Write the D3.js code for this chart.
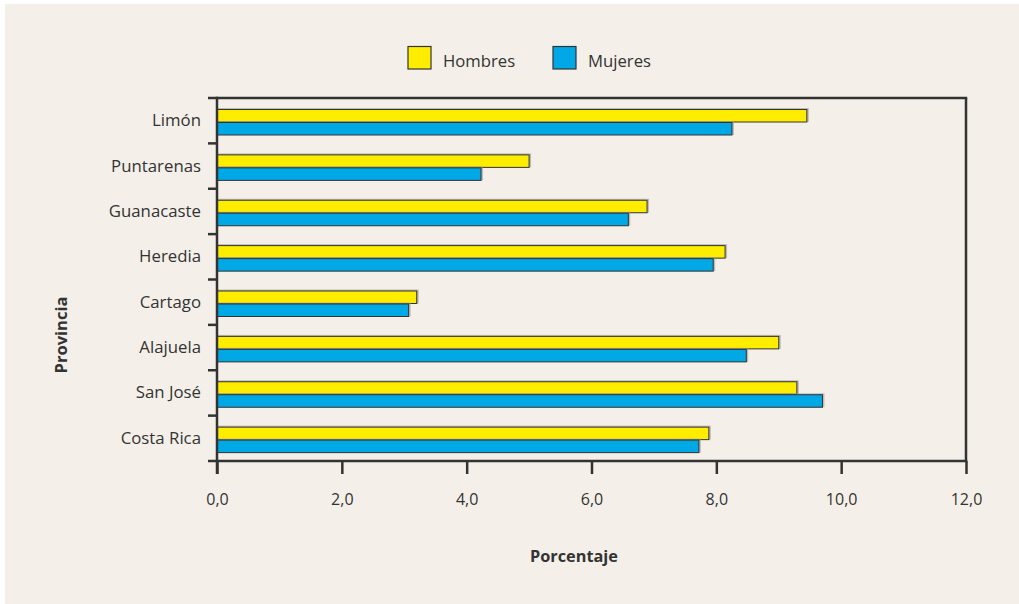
<!DOCTYPE html>
<html>
<head>
<meta charset="utf-8">
<script src="https://cdn.jsdelivr.net/npm/d3@7"></script>
<style>
  html, body { margin: 0; padding: 0; background: #ffffff; }
  svg { display: block; }
  text { font-family: "Open Sans", "Noto Sans", sans-serif; fill: #333333; }
</style>
</head>
<body>
<svg id="chart" width="1019" height="604"></svg>
<script>
const categories = ["Limón", "Puntarenas", "Guanacaste", "Heredia", "Cartago", "Alajuela", "San José", "Costa Rica"];
const seriesNames = ["Hombres", "Mujeres"];
const hombres = [9.45, 5.0, 6.89, 8.14, 3.2, 9.0, 9.29, 7.88];
const mujeres = [8.25, 4.23, 6.59, 7.95, 3.07, 8.48, 9.70, 7.72];
const xTicks = [0, 2, 4, 6, 8, 10, 12];
const colors = ["#FFED00", "#00A8E6"];

(function () {
const svg = d3.select("#chart");
svg.append("rect").attr("x", 5).attr("y", 4).attr("width", 1014).attr("height", 600).attr("fill", "#F4F0E9");

const pL = 217, pR = 966, pT = 98, pB = 461;
const x = d3.scaleLinear().domain([0, 12]).range([pL, pR]);
const y = d3.scaleBand().domain(categories).range([pT, pB]).padding(0);
const inner = d3.scaleBand().domain(seriesNames).range([11, 37]).padding(0);

const data = categories.map((c, i) => ({ cat: c, values: [hombres[i], mujeres[i]] }));

const g = svg.append("g");
data.forEach(d => {
  d.values.forEach((v, j) => {
    const by = y(d.cat) + inner(seriesNames[j]);
    g.append("rect")
      .attr("x", x(0) + 1).attr("y", by - 1)
      .attr("width", x(v) - x(0) + 1).attr("height", inner.bandwidth() + 1)
      .attr("fill", "#9a9a9a").attr("opacity", 0.6);
    g.append("rect")
      .attr("x", x(0) + 0.5).attr("y", by + 0.5)
      .attr("width", x(v) - x(0) - 0.5).attr("height", inner.bandwidth() - 0.5)
      .attr("fill", colors[j]).attr("stroke", "#333333").attr("stroke-width", 1);
  });
});

const axisColor = "#333333";
svg.append("line").attr("x1", pL).attr("x2", pR + 1.2).attr("y1", pT).attr("y2", pT)
  .attr("stroke", axisColor).attr("stroke-width", 2.5);
svg.append("line").attr("x1", pR).attr("x2", pR).attr("y1", pT).attr("y2", pB)
  .attr("stroke", axisColor).attr("stroke-width", 2.5);

const xAxis = d3.axisBottom(x).tickValues(xTicks).tickSize(13).tickPadding(20)
  .tickFormat(d => d3.format(".1f")(d).replace(".", ","));
const xa = svg.append("g").attr("transform", `translate(0,${pB})`).call(xAxis);
xa.select(".domain").remove();
xa.selectAll(".tick line").attr("stroke", axisColor).attr("stroke-width", 2.5);
xa.selectAll(".tick text").attr("font-size", 16).attr("fill", "#333").style("font-family", "'Open Sans', sans-serif");
svg.append("line").attr("x1", 208).attr("x2", pR + 1.2).attr("y1", pB).attr("y2", pB)
  .attr("stroke", axisColor).attr("stroke-width", 2.5);

svg.append("line").attr("x1", pL).attr("x2", pL).attr("y1", pT - 1.2).attr("y2", pB + 13)
  .attr("stroke", axisColor).attr("stroke-width", 2.5);
const yTickPos = categories.map(c => y(c));
svg.selectAll(".ytick").data(yTickPos).enter().append("line")
  .attr("x1", 208).attr("x2", pL).attr("y1", d => d).attr("y2", d => d)
  .attr("stroke", axisColor).attr("stroke-width", 2.5);
svg.selectAll(".ylab").data(categories).enter().append("text")
  .attr("x", 201).attr("y", d => y(d) + y.bandwidth() / 2 + 1)
  .attr("text-anchor", "end").attr("dominant-baseline", "middle")
  .attr("font-size", 16.8).text(d => d);

svg.append("text").attr("x", 574).attr("y", 562).attr("text-anchor", "middle")
  .attr("font-size", 16.3).attr("font-weight", "bold").text("Porcentaje");
svg.append("text").attr("transform", "translate(67,335) rotate(-90)").attr("text-anchor", "middle")
  .attr("font-size", 16.5).attr("font-weight", "bold").text("Provincia");

const legX = [408, 553];
seriesNames.forEach((s, i) => {
  svg.append("rect").attr("x", legX[i]).attr("y", 46.5).attr("width", 23).attr("height", 22.5)
    .attr("fill", colors[i]).attr("stroke", "#333").attr("stroke-width", 1.2);
  svg.append("text").attr("x", legX[i] + 35).attr("y", 67).attr("font-size", 16.7).text(s);
});
})();
</script>
</body>
</html>
